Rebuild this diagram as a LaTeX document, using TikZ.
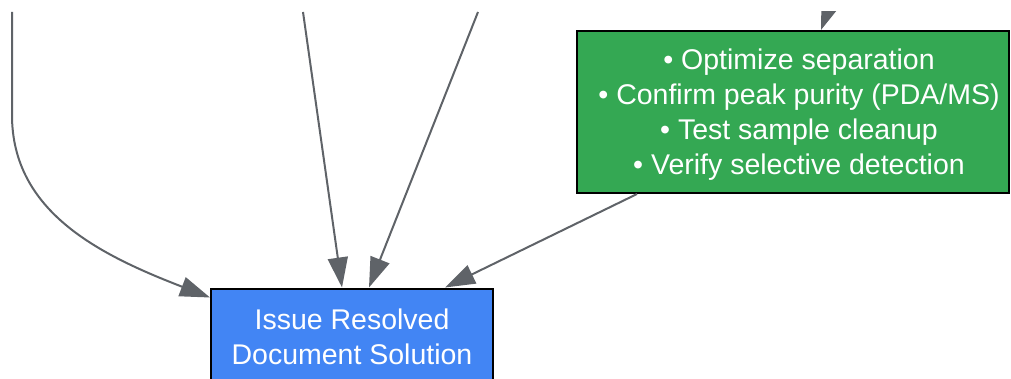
\documentclass[tikz,border=0pt]{standalone}
\usepackage{fontspec}
\setmainfont{Liberation Sans}
\usetikzlibrary{arrows.meta,calc}
\definecolor{gboxc}{HTML}{34A853}
\definecolor{bboxc}{HTML}{4285F4}
\definecolor{edgec}{HTML}{5F6368}
\begin{document}
\begin{tikzpicture}[x=1pt,y=-1pt,
  boxst/.style={draw=black,line width=2pt,inner sep=0pt},
  txt/.style={text=white,font=\fontsize{28.5}{35}\selectfont,align=center},
  conn/.style={draw=edgec,line width=2pt,-{Triangle[length=30pt,width=20pt]}}]
\useasboundingbox (0,0) rectangle (1011,379);
\clip (0,12) rectangle (1011,379);
% nodes
\node[boxst,fill=gboxc,minimum width=432pt,minimum height=162pt] (g) at (793,112) {};
\node[txt,inner sep=0pt] (gt) at (799,115) {• Optimize separation\\• Confirm peak purity (PDA/MS)\\• Test sample cleanup\\• Verify selective detection};
\node[boxst,fill=bboxc,minimum width=282pt,minimum height=97pt,txt] (b) at (352,337) {Issue Resolved\\Document Solution};
% free ends
\coordinate (s1) at (12,12);
\coordinate (k1) at (12,115);
\coordinate (s2) at (303,12);
\coordinate (s3) at (478,12);
\coordinate (s5) at (839,-20);
% connectors
\draw[conn] (s1) -- (k1) .. controls (12,212) and (100,255) .. ($(b.north west)+(0,10)$);
\draw[conn] (s2) -- ($(b.north west)+(132,0)$);
\draw[conn] (s3) -- ($(b.north west)+(159,0)$);
\draw[conn] ($(g.south west)+(61,0)$) -- ($(b.north west)+(235,0)$);
\draw[conn] (s5) -- ($(g.north west)+(245,0)$);
\end{tikzpicture}
\end{document}
